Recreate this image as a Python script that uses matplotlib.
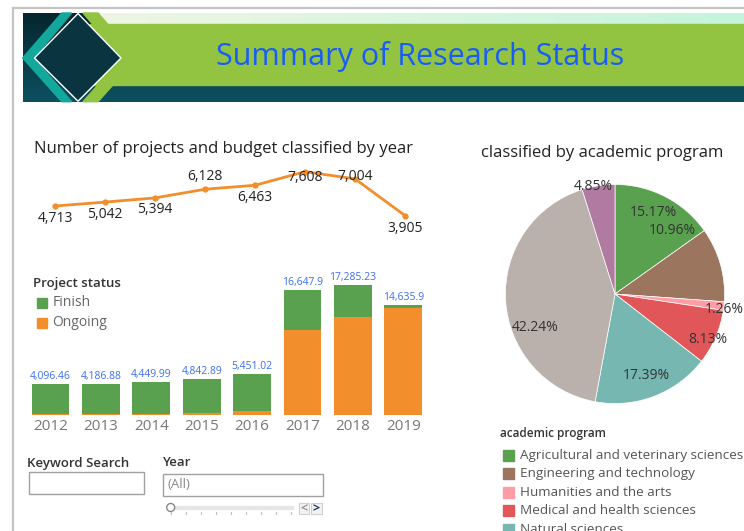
import numpy as np
import matplotlib
matplotlib.use("Agg")
import matplotlib.pyplot as plt
from matplotlib.patches import Polygon, Rectangle, Circle
from matplotlib.colors import LinearSegmentedColormap

plt.rcParams['font.family'] = ['Open Sans', 'DejaVu Sans']

W, H = 744, 531

years = ['2012', '2013', '2014', '2015', '2016', '2017', '2018', '2019']
projects = [4713, 5042, 5394, 6128, 6463, 7608, 7004, 3905]
budget_total = [4096.46, 4186.88, 4449.99, 4842.89, 5451.02, 16647.9, 17285.23, 14635.9]
budget_ongoing = [170, 170, 170, 350, 580, 11360, 13040, 14240]
status_labels = ['Finish', 'Ongoing']
status_colors = ['#59a14f', '#f28e2b']

programs = ['Agricultural and veterinary sciences', 'Engineering and technology',
            'Humanities and the arts', 'Medical and health sciences',
            'Natural sciences', 'Social sciences', 'Others']
program_share = [15.17, 10.96, 1.26, 8.13, 17.39, 42.24, 4.85]
program_colors = ['#59a14f', '#9c755f', '#ff9da7', '#e15759', '#76b7b2', '#bab0ac', '#b07aa1']


def axrect(left, top, width, height):
    # pixel box -> figure fraction
    return [left / W, 1 - (top + height) / H, width / W, height / H]


fig = plt.figure(figsize=(W / 100, H / 100), dpi=100)
fig.patch.set_facecolor('white')

# background / decoration layer in pixel coordinates
bg = fig.add_axes([0, 0, 1, 1])
bg.axis('off')


def grad(x0, x1, y0, y1, c0, c1, vertical=True):
    g = np.linspace(0, 1, 64)
    g = g.reshape(-1, 1) if vertical else g.reshape(1, -1)
    cm = LinearSegmentedColormap.from_list('g', [c0, c1])
    bg.imshow(g, cmap=cm, extent=(x0, x1, y1, y0), aspect='auto', interpolation='bilinear', zorder=1)


# frame
bg.plot([13, 13], [7.5, H], color='#c4c4c4', lw=1.6, zorder=0)
bg.plot([13, W], [7.5, 7.5], color='#c4c4c4', lw=1.6, zorder=0)

# header banner
grad(22.7, W, 13, 101.7, '#06262e', '#0c5060')
grad(96, W, 13, 24, '#eef6e2', '#c4f4dc', vertical=False)
bg.add_patch(Rectangle((90, 24), W - 90, 61, color='#92c441', zorder=2))
bg.add_patch(Polygon([(83, 13), (98, 13), (137, 58), (98, 101.7), (83, 101.7), (122, 58)],
                     closed=True, color='#92c441', zorder=3))
bg.add_patch(Polygon([(61.7, 13), (71.7, 13), (34, 58), (71.7, 101.7), (61.7, 101.7), (22.7, 58)],
                     closed=True, color='#14a89d', zorder=3))
bg.add_patch(Polygon([(78, 13.5), (121, 58), (78, 101.2), (34.5, 58)], closed=True,
                     facecolor='#0a3440', edgecolor='white', lw=1, zorder=4))
bg.text(420, 56, 'Summary of Research Status', ha='center', va='center',
        fontsize=22, color='#1a5cf8', zorder=5)

# section titles
bg.text(34, 149, 'Number of projects and budget classified by year', ha='left', va='center',
        fontsize=12, color='#222222')
bg.text(481, 153, 'classified by academic program', ha='left', va='center',
        fontsize=12, color='#222222')

# project status legend
bg.text(33, 283, 'Project status', ha='left', va='center', fontsize=9.5,
        fontweight='semibold', color='#333333')
for i, (lab, col) in enumerate(zip(status_labels, status_colors)):
    y = 302.5 + 20 * i
    bg.add_patch(Rectangle((36.7, y - 5), 10, 10, color=col))
    bg.text(52.5, y, lab, ha='left', va='center', fontsize=10, color='#666666')

# academic program legend
bg.text(500, 434, 'academic program', ha='left', va='center', fontsize=8.5,
        fontweight='semibold', color='#333333')
for i, (lab, col) in enumerate(zip(programs, program_colors)):
    y = 455 + 18.6 * i
    bg.add_patch(Rectangle((503, y - 5.5), 11, 11, color=col))
    bg.text(520, y, lab, ha='left', va='center', fontsize=9.7, color='#555555')

# filter widgets
bg.text(27, 463, 'Keyword Search', ha='left', va='center', fontsize=9.5,
        fontweight='semibold', color='#333333')
bg.add_patch(Rectangle((29, 472), 115, 22, facecolor='white', edgecolor='#a0a0a0', lw=1))
bg.text(162, 463, 'Year', ha='left', va='center', fontsize=9.5,
        fontweight='semibold', color='#333333')
bg.add_patch(Rectangle((163, 474), 160, 22, facecolor='white', edgecolor='#a0a0a0', lw=1))
bg.text(167, 485, '(All)', ha='left', va='center', fontsize=9.5, color='#888888')
bg.add_patch(Rectangle((173, 506), 120, 3, color='#e6e6e6'))
for k in range(9):
    bg.plot([171 + 15 * k] * 2, [512, 514], color='#c0c0c0', lw=0.8)
bg.add_patch(Circle((170.7, 507.5), 4, facecolor='white', edgecolor='#888888', lw=1, zorder=5))
bg.add_patch(Rectangle((299, 503), 10, 11, facecolor='#f2f2f2', edgecolor='#d0d0d0', lw=0.8))
bg.text(304, 508.5, '<', ha='center', va='center', fontsize=9, color='#999999', fontweight='bold')
bg.add_patch(Rectangle((311, 503), 11, 11, facecolor='#f2f2f2', edgecolor='#d0d0d0', lw=0.8))
bg.text(316.5, 508.5, '>', ha='center', va='center', fontsize=9, color='#1f3a66', fontweight='bold')

bg.set_xlim(0, W)
bg.set_ylim(H, 0)

# projects line
axl = fig.add_axes(axrect(30, 160, 400, 80))
axl.patch.set_alpha(0)
x = np.arange(len(years))
axl.plot(x, projects, color='#f28e2b', lw=2, marker='o', ms=3.5)
label_dy = [12, 12, 12, -13, 12, 6, -2, 13]  # px, positive = below
for xi, v, dy in zip(x, projects, label_dy):
    axl.annotate(f'{v:,}', (xi, v), xytext=(0, -dy * 0.72), textcoords='offset points',
                 ha='center', va='center', fontsize=10, color='#222222')
axl.set_xlim(-0.5, 7.5)
axl.set_ylim(1844, 8595)
axl.axis('off')

# budget stacked bars
axb = fig.add_axes(axrect(25.3, 269.8, 403.2, 145.5))
axb.patch.set_alpha(0)
finish = [t - o for t, o in zip(budget_total, budget_ongoing)]
axb.bar(x, budget_ongoing, width=0.75, color=status_colors[1])
axb.bar(x, finish, width=0.75, bottom=budget_ongoing, color=status_colors[0])
for xi, t in zip(x, budget_total):
    s = f'{t:,.2f}'.rstrip('0').rstrip('.')
    axb.annotate(s, (xi, t), xytext=(0, 1.5), textcoords='offset points',
                 ha='center', va='bottom', fontsize=7.5, color='#3c6df0')
axb.set_xlim(-0.5, 7.5)
axb.set_ylim(0, 19300)
axb.set_xticks(x)
axb.set_xticklabels(years, fontsize=11, color='#777777')
axb.tick_params(axis='x', length=0, pad=3)
axb.set_yticks([])
for sp in axb.spines.values():
    sp.set_visible(False)

# academic program pie
axp = fig.add_axes(axrect(494.5, 173.5, 241, 241))
axp.patch.set_alpha(0)
wedges, _ = axp.pie(program_share, colors=program_colors, startangle=90, counterclock=False,
                    radius=1, wedgeprops=dict(edgecolor='white', linewidth=0.5))
label_shift = [2, 32, -1.5, -3, 0, 19.5, 2.5]  # degrees
label_r = [0.82, 0.78, 1.01, 0.94, 0.8, 0.79, 1.0]
for w, v, sh, r in zip(wedges, program_share, label_shift, label_r):
    a = np.deg2rad((w.theta1 + w.theta2) / 2 + sh)
    axp.text(r * np.cos(a), r * np.sin(a), f'{v:.2f}%', ha='center', va='center',
             fontsize=10, color='#333333')
axp.set_xlim(-1.1, 1.1)
axp.set_ylim(-1.1, 1.1)
axp.set_aspect('equal')
axp.axis('off')

fig.savefig('out.png', dpi=100)
